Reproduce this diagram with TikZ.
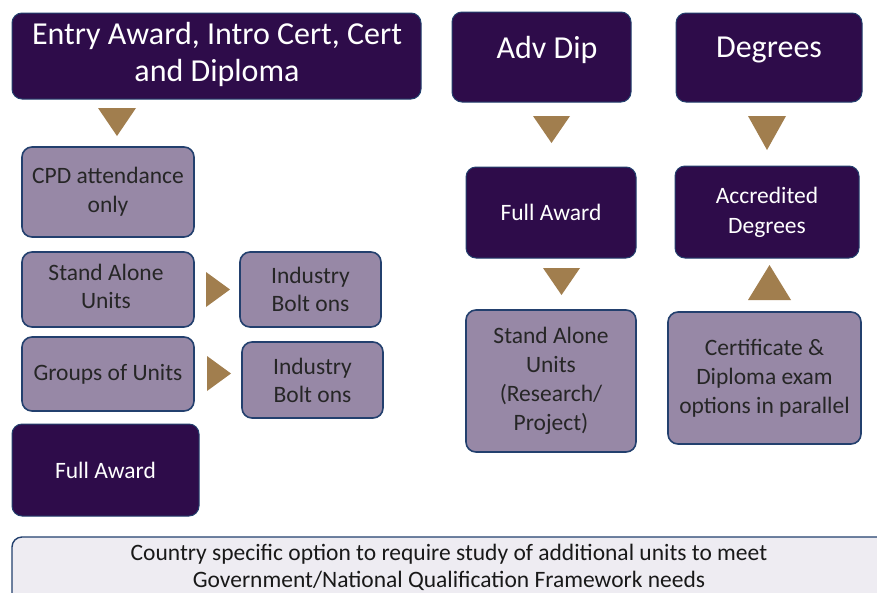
\documentclass[tikz,border=0pt]{standalone}
\usepackage{fontspec}
\setmainfont{Carlito}
\definecolor{dark}{RGB}{46,12,74}
\definecolor{navy}{RGB}{35,64,110}
\definecolor{lilac}{RGB}{151,136,166}
\definecolor{gold}{RGB}{161,126,78}
\definecolor{pale}{RGB}{238,236,242}
\tikzset{
  darkbox/.style={draw=navy, line width=1pt, fill=dark, rounded corners=10pt, text=white, align=center, inner sep=0pt},
  lightbox/.style={draw=navy, line width=1.6pt, fill=lilac, rounded corners=10pt, text=black!85, align=center, inner sep=0pt},
  txt/.style={align=center, inner sep=0pt},
  big/.style={font=\fontsize{32}{37}\selectfont},
  small/.style={font=\fontsize{23.5}{29}\selectfont},
  tri/.style={fill=gold},
}
\begin{document}
\begin{tikzpicture}[x=1pt,y=-1pt]
\clip (0,0) rectangle (877,592);
\fill[white] (0,0) rectangle (877,592);
% left column
\node[darkbox, minimum width=409pt, minimum height=86pt] (entry) at (216.5,56) {};
\node[txt, big, text=white] (entrytxt) at (217,54) {Entry Award, Intro Cert, Cert\\and Diploma};
\node[lightbox, small, minimum width=172pt, minimum height=90pt] (cpd) at (108,192) {CPD attendance\\only};
\node[lightbox, minimum width=172pt, minimum height=75pt] (sau) at (108,289.5) {};
\node[txt, text=black!85, font=\fontsize{23.5}{28}\selectfont] (sautxt) at (106,286) {Stand Alone\\Units};
\node[lightbox, minimum width=141pt, minimum height=75pt, font=\fontsize{23.5}{28}\selectfont] (ibo1) at (310.5,289.5) {Industry\\Bolt ons};
\node[lightbox, small, minimum width=172pt, minimum height=74pt] (grp) at (108,374) {Groups of Units};
\node[lightbox, minimum width=141pt, minimum height=76pt, font=\fontsize{23.5}{28}\selectfont] (ibo2) at (312.5,380) {Industry\\Bolt ons};
\node[darkbox, small, minimum width=187pt, minimum height=92pt] (fa1) at (105.5,470) {Full Award};
% middle column
\node[darkbox, minimum width=179pt, minimum height=90pt] (adv) at (541.5,57) {};
\node[txt, big, text=white] (advtxt) at (547,50) {Adv Dip};
\node[darkbox, small, minimum width=170pt, minimum height=91pt] (fa2) at (551,212.5) {Full Award};
\node[lightbox, small, minimum width=170pt, minimum height=142pt] (sar) at (551,381) {Stand Alone\\Units\\(Research/\\Project)};
% right column
\node[darkbox, minimum width=186pt, minimum height=89pt] (deg) at (769,57.5) {};
\node[txt, big, text=white] (degtxt) at (769,50) {Degrees};
\node[darkbox, minimum width=184pt, minimum height=92pt, font=\fontsize{23.5}{30}\selectfont] (acc) at (767,212) {Accredited\\Degrees};
\node[lightbox, small, minimum width=193pt, minimum height=132pt] (cert) at (764.5,378) {Certificate \&\\Diploma exam\\options in parallel};
% bottom
\draw[navy, line width=1.4pt, fill=pale, rounded corners=10pt] (12,537) rectangle (900,620);
\node[txt, text=black!90, font=\fontsize{23.5}{27}\selectfont] (note) at (449,567) {Country specific option to require study of additional units to meet\\Government/National Qualification Framework needs};
% triangles
\fill[tri] (98,108) -- (136,108) -- (117,136) -- cycle;
\fill[tri] (206,272) -- (230,289.5) -- (206,307) -- cycle;
\fill[tri] (207,356) -- (231,373.5) -- (207,391) -- cycle;
\fill[tri] (533,116) -- (570,116) -- (551.5,143) -- cycle;
\fill[tri] (543,268) -- (580,268) -- (561.5,295) -- cycle;
\fill[tri] (748,116) -- (786,116) -- (767,150) -- cycle;
\fill[tri] (748,300) -- (791,300) -- (769.5,265) -- cycle;
\end{tikzpicture}
\end{document}
